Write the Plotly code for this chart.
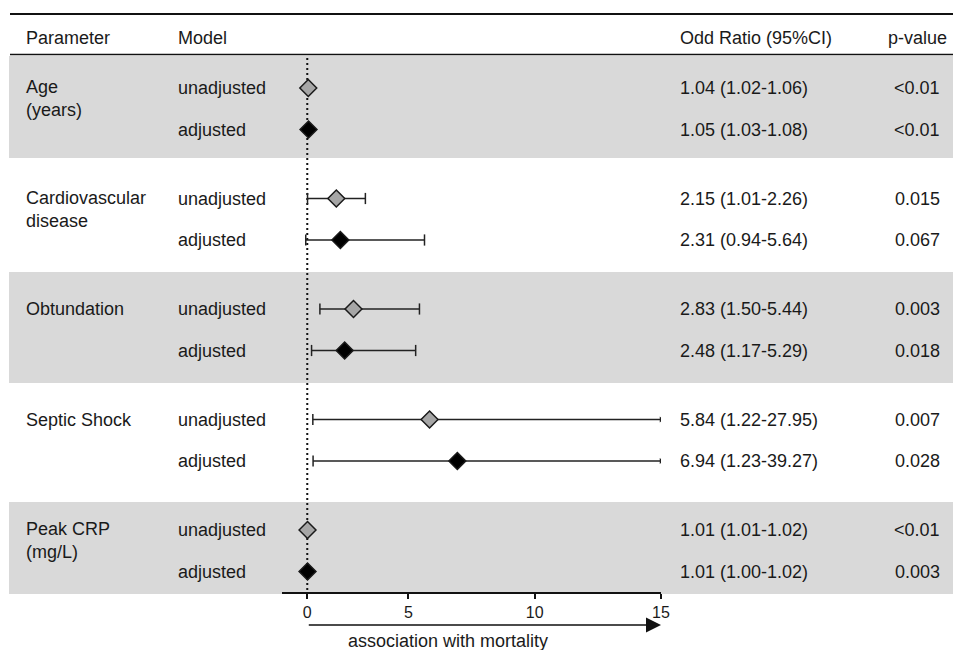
import plotly.graph_objects as go

# ---------------- data ----------------
groups = ["Age<br>(years)", "Cardiovascular<br>disease", "Obtundation", "Septic Shock", "Peak CRP<br>(mg/L)"]
models = ["unadjusted", "adjusted"]
or_est = [1.04, 1.05, 2.15, 2.31, 2.83, 2.48, 5.84, 6.94, 1.01, 1.01]
ci_lo = [1.02, 1.03, 1.01, 0.94, 1.50, 1.17, 1.22, 1.23, 1.01, 1.00]
ci_hi = [1.06, 1.08, 3.30, 5.64, 5.44, 5.29, 15.0, 15.0, 1.02, 1.02]   # as drawn (Septic Shock truncated at 15)
truncated = [False, False, False, False, False, False, True, True, False, False]
or_text = ["1.04 (1.02-1.06)", "1.05 (1.03-1.08)", "2.15 (1.01-2.26)", "2.31 (0.94-5.64)",
           "2.83 (1.50-5.44)", "2.48 (1.17-5.29)", "5.84 (1.22-27.95)", "6.94 (1.23-39.27)",
           "1.01 (1.01-1.02)", "1.01 (1.00-1.02)"]
p_text = ["<0.01", "<0.01", "0.015", "0.067", "0.003", "0.018", "0.007", "0.028", "<0.01", "0.003"]
tick_vals = [1, 5, 10, 15]
tick_text = ["0", "5", "10", "15"]
x_range = [0, 15]

# ---------------- layout geometry (pixel-like y units) ----------------
W, H = 953, 650
FONT = "Liberation Sans, Arial, sans-serif"
TXT = "#1a1a1a"
FS = 18
first_row_y = 88
group_step = 110.5
sub_step = 41.5
row_y = [first_row_y + g * group_step + s * sub_step for g in range(len(groups)) for s in range(len(models))]
row_model = [models[s] for g in range(len(groups)) for s in range(len(models))]
bands = [(56, 158), (272, 383), (502, 594)]
axis_y = 593

def px(x):
    return x / W

fig = go.Figure()

# whiskers
wx, wy = [], []
for lo, hi, y in zip(ci_lo, ci_hi, row_y):
    wx += [lo, hi, None]
    wy += [y, y, None]
fig.add_trace(go.Scatter(x=wx, y=wy, mode="lines", line=dict(color="#222222", width=1.5),
                         hoverinfo="skip", showlegend=False))
# lower caps
fig.add_trace(go.Scatter(x=ci_lo, y=row_y, mode="markers",
                         marker=dict(symbol="line-ns", size=8, line=dict(color="#222222", width=1.5)),
                         hoverinfo="skip", showlegend=False))
# upper caps
fig.add_trace(go.Scatter(x=[h for h, t in zip(ci_hi, truncated) if not t],
                         y=[y for y, t in zip(row_y, truncated) if not t], mode="markers",
                         marker=dict(symbol="line-ns", size=8, line=dict(color="#222222", width=1.5)),
                         hoverinfo="skip", showlegend=False))
# truncated arrows
fig.add_trace(go.Scatter(x=[h for h, t in zip(ci_hi, truncated) if t],
                         y=[y for y, t in zip(row_y, truncated) if t], mode="markers",
                         marker=dict(symbol="triangle-right", size=5, color="#222222"),
                         hoverinfo="skip", showlegend=False))
# diamonds
for m, fill in zip(models, ["#a6a6a6", "#000000"]):
    xs = [o for o, mm in zip(or_est, row_model) if mm == m]
    ys = [y for y, mm in zip(row_y, row_model) if mm == m]
    fig.add_trace(go.Scatter(x=xs, y=ys, mode="markers", name=m,
                             marker=dict(symbol="diamond", size=13, color=fill,
                                         line=dict(color="#1a1a1a", width=1.5)),
                             showlegend=False))

shapes = []
for y0, y1 in bands:
    shapes.append(dict(type="rect", xref="paper", yref="y", x0=px(9), x1=1, y0=y0, y1=y1,
                       fillcolor="#d9d9d9", line=dict(width=0), layer="below"))
shapes.append(dict(type="line", xref="paper", yref="y", x0=px(10), x1=1, y0=14, y1=14,
                   line=dict(color="#111111", width=2)))
shapes.append(dict(type="line", xref="paper", yref="y", x0=px(10), x1=1, y0=54.5, y1=54.5,
                   line=dict(color="#111111", width=1.5)))
shapes.append(dict(type="line", xref="x", yref="y", x0=1, x1=1, y0=58, y1=axis_y,
                   line=dict(color="#111111", width=2, dash="2px,3px"), layer="below"))

ann = []
def text(x, y, t, anchor="left", size=FS):
    ann.append(dict(xref="paper", yref="y", x=px(x), y=y, text=t, showarrow=False,
                    xanchor=anchor, yanchor="middle", align=anchor,
                    font=dict(family=FONT, size=size, color=TXT)))

COL_PARAM, COL_MODEL, COL_OR, COL_P = 24, 176, 678, 917
# header
text(COL_PARAM, 38, "Parameter")
text(COL_MODEL, 38, "Model")
text(COL_OR, 38, "Odd Ratio (95%CI)")
text(COL_P, 38, "p-value", anchor="center")
# groups
for g, name in enumerate(groups):
    y = row_y[2 * g]
    if "<br>" in name:
        y += 10.5
    text(COL_PARAM, y, name)
for y, m, o, p in zip(row_y, row_model, or_text, p_text):
    text(COL_MODEL, y, m)
    text(COL_OR, y, o)
    text(COL_P, y, p, anchor="center")
# arrow
ann.append(dict(xref="x", yref="y", axref="x", ayref="y", x=x_range[1], y=625, ax=tick_vals[0], ay=625,
                text="", showarrow=True, arrowhead=2, arrowsize=2, arrowwidth=1.5, arrowcolor="#111111"))
text(448, 641, "association with mortality", anchor="center")

fig.update_layout(
    template="none",
    width=W, height=H, margin=dict(l=0, r=0, t=0, b=0, pad=0, autoexpand=False),
    paper_bgcolor="white", plot_bgcolor="white", showlegend=False,
    shapes=shapes, annotations=ann, hovermode=False,
    xaxis=dict(domain=[px(282), px(661)], range=x_range, anchor="free", position=1 - axis_y / H,
               automargin=False,
               showline=True, linecolor="#111111", linewidth=2, ticks="outside", ticklen=5,
               tickwidth=2, tickcolor="#111111", tickvals=tick_vals, ticktext=tick_text,
               showgrid=False, zeroline=False,
               tickfont=dict(family=FONT, size=16, color=TXT)),
    yaxis=dict(domain=[0, 1], range=[H, 0], visible=False, automargin=False,
               showgrid=False, zeroline=False),
)

post = "document.body.style.margin='0px';document.body.style.overflow='hidden';"
fig.write_html("out.html", config={"displayModeBar": False}, post_script=post)
